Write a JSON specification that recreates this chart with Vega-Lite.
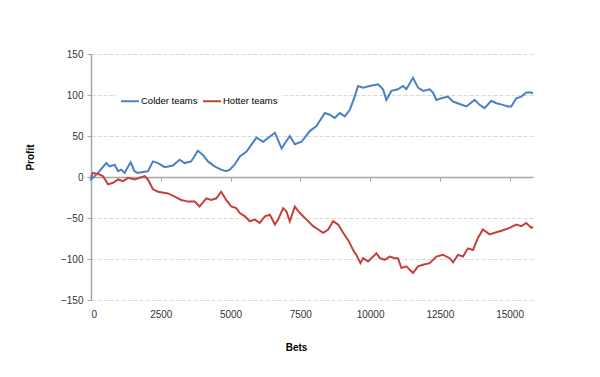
{
  "$schema": "https://vega.github.io/schema/vega-lite/v6.json",
  "width": 442,
  "height": 246,
  "autosize": {"type": "none"},
  "padding": {"left": 91, "top": 54, "right": 67, "bottom": 77},
  "background": "white",
  "config": {
    "view": {"stroke": null},
    "font": "Liberation Sans"
  },
  "data": {
    "values": [
      {"bets":0,"profit":0,"series":"Colder teams"},
      {"bets":10,"profit":-3,"series":"Colder teams"},
      {"bets":250,"profit":5,"series":"Colder teams"},
      {"bets":550,"profit":17,"series":"Colder teams"},
      {"bets":670,"profit":13,"series":"Colder teams"},
      {"bets":850,"profit":15,"series":"Colder teams"},
      {"bets":970,"profit":7,"series":"Colder teams"},
      {"bets":1085,"profit":9,"series":"Colder teams"},
      {"bets":1200,"profit":5,"series":"Colder teams"},
      {"bets":1420,"profit":18,"series":"Colder teams"},
      {"bets":1560,"profit":7,"series":"Colder teams"},
      {"bets":1680,"profit":5,"series":"Colder teams"},
      {"bets":1860,"profit":6,"series":"Colder teams"},
      {"bets":2040,"profit":7,"series":"Colder teams"},
      {"bets":2220,"profit":19,"series":"Colder teams"},
      {"bets":2400,"profit":17,"series":"Colder teams"},
      {"bets":2640,"profit":12,"series":"Colder teams"},
      {"bets":2935,"profit":14,"series":"Colder teams"},
      {"bets":3175,"profit":21,"series":"Colder teams"},
      {"bets":3355,"profit":17,"series":"Colder teams"},
      {"bets":3590,"profit":19,"series":"Colder teams"},
      {"bets":3830,"profit":32,"series":"Colder teams"},
      {"bets":4010,"profit":27,"series":"Colder teams"},
      {"bets":4190,"profit":19,"series":"Colder teams"},
      {"bets":4430,"profit":13,"series":"Colder teams"},
      {"bets":4665,"profit":9,"series":"Colder teams"},
      {"bets":4845,"profit":7,"series":"Colder teams"},
      {"bets":4975,"profit":9,"series":"Colder teams"},
      {"bets":5145,"profit":15,"series":"Colder teams"},
      {"bets":5335,"profit":25,"series":"Colder teams"},
      {"bets":5575,"profit":31,"series":"Colder teams"},
      {"bets":5930,"profit":48,"series":"Colder teams"},
      {"bets":6170,"profit":43,"series":"Colder teams"},
      {"bets":6590,"profit":54,"series":"Colder teams"},
      {"bets":6830,"profit":35,"series":"Colder teams"},
      {"bets":7125,"profit":50,"series":"Colder teams"},
      {"bets":7305,"profit":40,"series":"Colder teams"},
      {"bets":7545,"profit":43,"series":"Colder teams"},
      {"bets":7840,"profit":56,"series":"Colder teams"},
      {"bets":8080,"profit":62,"series":"Colder teams"},
      {"bets":8380,"profit":78,"series":"Colder teams"},
      {"bets":8555,"profit":76,"series":"Colder teams"},
      {"bets":8735,"profit":72,"series":"Colder teams"},
      {"bets":8915,"profit":78,"series":"Colder teams"},
      {"bets":9095,"profit":74,"series":"Colder teams"},
      {"bets":9275,"profit":82,"series":"Colder teams"},
      {"bets":9450,"profit":98,"series":"Colder teams"},
      {"bets":9570,"profit":111,"series":"Colder teams"},
      {"bets":9750,"profit":109,"series":"Colder teams"},
      {"bets":9990,"profit":111,"series":"Colder teams"},
      {"bets":10285,"profit":113,"series":"Colder teams"},
      {"bets":10465,"profit":107,"series":"Colder teams"},
      {"bets":10585,"profit":94,"series":"Colder teams"},
      {"bets":10765,"profit":105,"series":"Colder teams"},
      {"bets":11000,"profit":107,"series":"Colder teams"},
      {"bets":11180,"profit":111,"series":"Colder teams"},
      {"bets":11300,"profit":107,"series":"Colder teams"},
      {"bets":11540,"profit":121,"series":"Colder teams"},
      {"bets":11720,"profit":109,"series":"Colder teams"},
      {"bets":11900,"profit":105,"series":"Colder teams"},
      {"bets":12135,"profit":107,"series":"Colder teams"},
      {"bets":12255,"profit":103,"series":"Colder teams"},
      {"bets":12375,"profit":94,"series":"Colder teams"},
      {"bets":12555,"profit":96,"series":"Colder teams"},
      {"bets":12790,"profit":98,"series":"Colder teams"},
      {"bets":12970,"profit":92,"series":"Colder teams"},
      {"bets":13210,"profit":89,"series":"Colder teams"},
      {"bets":13450,"profit":86,"series":"Colder teams"},
      {"bets":13750,"profit":94,"series":"Colder teams"},
      {"bets":13925,"profit":88,"series":"Colder teams"},
      {"bets":14105,"profit":84,"series":"Colder teams"},
      {"bets":14345,"profit":93,"series":"Colder teams"},
      {"bets":14525,"profit":90,"series":"Colder teams"},
      {"bets":14765,"profit":88,"series":"Colder teams"},
      {"bets":14940,"profit":86,"series":"Colder teams"},
      {"bets":15060,"profit":86,"series":"Colder teams"},
      {"bets":15240,"profit":96,"series":"Colder teams"},
      {"bets":15420,"profit":98,"series":"Colder teams"},
      {"bets":15600,"profit":103,"series":"Colder teams"},
      {"bets":15780,"profit":103,"series":"Colder teams"},
      {"bets":15840,"profit":102,"series":"Colder teams"},
      {"bets":0,"profit":0,"series":"Hotter teams"},
      {"bets":70,"profit":5,"series":"Hotter teams"},
      {"bets":310,"profit":3,"series":"Hotter teams"},
      {"bets":430,"profit":1,"series":"Hotter teams"},
      {"bets":610,"profit":-9,"series":"Hotter teams"},
      {"bets":790,"profit":-7,"series":"Hotter teams"},
      {"bets":970,"profit":-3,"series":"Hotter teams"},
      {"bets":1150,"profit":-5,"series":"Hotter teams"},
      {"bets":1325,"profit":-1,"series":"Hotter teams"},
      {"bets":1565,"profit":-3,"series":"Hotter teams"},
      {"bets":1745,"profit":-1,"series":"Hotter teams"},
      {"bets":1925,"profit":1,"series":"Hotter teams"},
      {"bets":2040,"profit":-3,"series":"Hotter teams"},
      {"bets":2220,"profit":-15,"series":"Hotter teams"},
      {"bets":2400,"profit":-18,"series":"Hotter teams"},
      {"bets":2760,"profit":-20,"series":"Hotter teams"},
      {"bets":3000,"profit":-24,"series":"Hotter teams"},
      {"bets":3235,"profit":-28,"series":"Hotter teams"},
      {"bets":3475,"profit":-30,"series":"Hotter teams"},
      {"bets":3715,"profit":-30,"series":"Hotter teams"},
      {"bets":3890,"profit":-36,"series":"Hotter teams"},
      {"bets":4130,"profit":-26,"series":"Hotter teams"},
      {"bets":4310,"profit":-28,"series":"Hotter teams"},
      {"bets":4490,"profit":-26,"series":"Hotter teams"},
      {"bets":4665,"profit":-18,"series":"Hotter teams"},
      {"bets":4845,"profit":-28,"series":"Hotter teams"},
      {"bets":5025,"profit":-36,"series":"Hotter teams"},
      {"bets":5205,"profit":-38,"series":"Hotter teams"},
      {"bets":5335,"profit":-44,"series":"Hotter teams"},
      {"bets":5515,"profit":-48,"series":"Hotter teams"},
      {"bets":5690,"profit":-54,"series":"Hotter teams"},
      {"bets":5870,"profit":-52,"series":"Hotter teams"},
      {"bets":6050,"profit":-56,"series":"Hotter teams"},
      {"bets":6230,"profit":-48,"series":"Hotter teams"},
      {"bets":6410,"profit":-46,"series":"Hotter teams"},
      {"bets":6590,"profit":-58,"series":"Hotter teams"},
      {"bets":6705,"profit":-52,"series":"Hotter teams"},
      {"bets":6885,"profit":-38,"series":"Hotter teams"},
      {"bets":7005,"profit":-42,"series":"Hotter teams"},
      {"bets":7125,"profit":-54,"series":"Hotter teams"},
      {"bets":7305,"profit":-36,"series":"Hotter teams"},
      {"bets":7485,"profit":-44,"series":"Hotter teams"},
      {"bets":7725,"profit":-52,"series":"Hotter teams"},
      {"bets":7960,"profit":-60,"series":"Hotter teams"},
      {"bets":8140,"profit":-64,"series":"Hotter teams"},
      {"bets":8320,"profit":-68,"series":"Hotter teams"},
      {"bets":8500,"profit":-64,"series":"Hotter teams"},
      {"bets":8675,"profit":-54,"series":"Hotter teams"},
      {"bets":8855,"profit":-58,"series":"Hotter teams"},
      {"bets":9035,"profit":-68,"series":"Hotter teams"},
      {"bets":9215,"profit":-77,"series":"Hotter teams"},
      {"bets":9395,"profit":-89,"series":"Hotter teams"},
      {"bets":9510,"profit":-95,"series":"Hotter teams"},
      {"bets":9655,"profit":-105,"series":"Hotter teams"},
      {"bets":9750,"profit":-99,"series":"Hotter teams"},
      {"bets":9930,"profit":-103,"series":"Hotter teams"},
      {"bets":10050,"profit":-99,"series":"Hotter teams"},
      {"bets":10230,"profit":-93,"series":"Hotter teams"},
      {"bets":10350,"profit":-99,"series":"Hotter teams"},
      {"bets":10525,"profit":-101,"series":"Hotter teams"},
      {"bets":10705,"profit":-97,"series":"Hotter teams"},
      {"bets":10885,"profit":-99,"series":"Hotter teams"},
      {"bets":11000,"profit":-99,"series":"Hotter teams"},
      {"bets":11125,"profit":-111,"series":"Hotter teams"},
      {"bets":11300,"profit":-109,"series":"Hotter teams"},
      {"bets":11540,"profit":-117,"series":"Hotter teams"},
      {"bets":11720,"profit":-109,"series":"Hotter teams"},
      {"bets":11900,"profit":-107,"series":"Hotter teams"},
      {"bets":12135,"profit":-105,"series":"Hotter teams"},
      {"bets":12375,"profit":-97,"series":"Hotter teams"},
      {"bets":12615,"profit":-95,"series":"Hotter teams"},
      {"bets":12855,"profit":-99,"series":"Hotter teams"},
      {"bets":12975,"profit":-104,"series":"Hotter teams"},
      {"bets":13150,"profit":-95,"series":"Hotter teams"},
      {"bets":13330,"profit":-97,"series":"Hotter teams"},
      {"bets":13510,"profit":-87,"series":"Hotter teams"},
      {"bets":13690,"profit":-89,"series":"Hotter teams"},
      {"bets":13870,"profit":-74,"series":"Hotter teams"},
      {"bets":14045,"profit":-64,"series":"Hotter teams"},
      {"bets":14285,"profit":-70,"series":"Hotter teams"},
      {"bets":14465,"profit":-68,"series":"Hotter teams"},
      {"bets":14765,"profit":-65,"series":"Hotter teams"},
      {"bets":15000,"profit":-62,"series":"Hotter teams"},
      {"bets":15240,"profit":-58,"series":"Hotter teams"},
      {"bets":15420,"profit":-60,"series":"Hotter teams"},
      {"bets":15600,"profit":-56,"series":"Hotter teams"},
      {"bets":15780,"profit":-62,"series":"Hotter teams"},
      {"bets":15840,"profit":-61,"series":"Hotter teams"}
    ]
  },
  "mark": {"type": "line", "strokeWidth": 2},
  "encoding": {
    "x": {
      "field": "bets",
      "type": "quantitative",
      "scale": {"domain": [0, 15840], "nice": false},
      "axis": {
        "title": "Bets",
        "values": [0, 2500, 5000, 7500, 10000, 12500, 15000],
        "format": "d",
        "offset": -123,
        "grid": false,
        "domainColor": "#a6a6a6",
        "domainWidth": 1.5,
        "tickColor": "#a6a6a6",
        "tickSize": 4,
        "labelPadding": 128,
        "labelFontSize": 10,
        "labelColor": "#333333",
        "labelFont": "Liberation Sans",
        "titleFont": "Liberation Sans",
        "titleFontSize": 10,
        "titleFontWeight": "bold",
        "titleColor": "#000000",
        "titlePadding": 23,
        "titleX": 205,
        "titleAlign": "center"
      }
    },
    "y": {
      "field": "profit",
      "type": "quantitative",
      "scale": {"domain": [-150, 150], "nice": false},
      "axis": {
        "title": "Profit",
        "values": [-150, -100, -50, 0, 50, 100, 150],
        "grid": true,
        "gridColor": "#d9d9d9",
        "gridDash": [4, 2],
        "gridWidth": 1,
        "domainColor": "#a6a6a6",
        "domainWidth": 1.5,
        "tickColor": "#a6a6a6",
        "tickSize": 4,
        "labelPadding": 4,
        "labelFontSize": 10,
        "labelColor": "#333333",
        "labelFont": "Liberation Sans",
        "titleFont": "Liberation Sans",
        "titleFontSize": 10,
        "titleFontWeight": "bold",
        "titleColor": "#000000",
        "titlePadding": 25,
        "titleY": 103,
        "titleAlign": "center"
      }
    },
    "color": {
      "field": "series",
      "type": "nominal",
      "scale": {"domain": ["Colder teams", "Hotter teams"], "range": ["#4a80c4", "#c2413d"]},
      "legend": {
        "title": null,
        "orient": "none",
        "legendX": 26,
        "legendY": 34,
        "direction": "horizontal",
        "symbolType": "stroke",
        "symbolSize": 324,
        "symbolStrokeWidth": 2,
        "labelFontSize": 9.5,
        "labelFont": "Liberation Sans",
        "labelColor": "#000000",
        "labelOffset": 1,
        "columnPadding": 1,
        "fillColor": "white",
        "padding": 3
      }
    }
  }
}
